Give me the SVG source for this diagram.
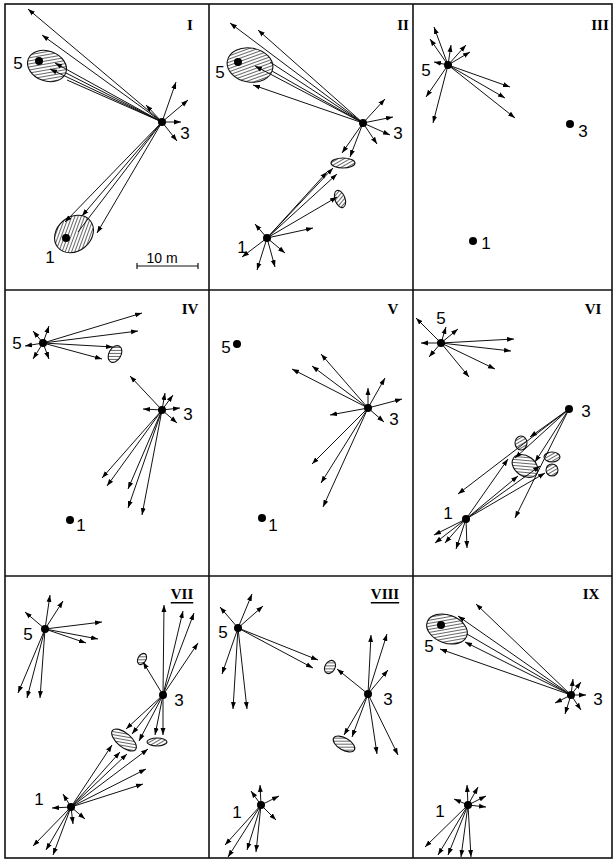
<svg xmlns="http://www.w3.org/2000/svg" width="614" height="861" viewBox="0 0 614 861">
<style>
.fr{fill:none;stroke:#111;stroke-width:1.6}
.c line{stroke:#111;stroke-width:1}
.c line.a{marker-end:url(#ah)}
.dot{fill:#000}
.lb{font-family:"Liberation Sans Narrow","Liberation Sans",Arial,sans-serif;font-size:17px;fill:#000;text-anchor:middle;dominant-baseline:central}
.rn{font-family:"Liberation Serif","Times New Roman",serif;font-size:15px;font-weight:bold;fill:#000;text-anchor:middle;dominant-baseline:central}
.z{fill:url(#hatch);stroke:#111;stroke-width:1.1}
</style>
<defs>
<marker id="ah" viewBox="0 0 10 10" refX="10" refY="5" markerWidth="7" markerHeight="7" markerUnits="userSpaceOnUse" orient="auto"><path d="M0,1.5 L10,5 L0,8.5 z" fill="#000"/></marker>
<pattern id="hatch" width="3" height="3" patternUnits="userSpaceOnUse" patternTransform="rotate(60)"><rect width="3" height="3" fill="#fff"/><line x1="0" y1="0" x2="0" y2="3" stroke="#000" stroke-width="1.2"/></pattern>
</defs>
<rect width="614" height="861" fill="#fff"/>
<g id="frame">
<rect class="fr" x="5" y="4" width="607" height="854"/>
<line class="fr" x1="209" y1="4" x2="209" y2="858"/>
<line class="fr" x1="413" y1="4" x2="413" y2="858"/>
<line class="fr" x1="5" y1="290" x2="612" y2="290"/>
<line class="fr" x1="5" y1="576" x2="612" y2="576"/>
</g>
<g id="titles">
<text class="rn" x="190" y="25">I</text>
<text class="rn" x="403" y="25">II</text>
<text class="rn" x="600" y="25">III</text>
<text class="rn" x="190" y="309">IV</text>
<text class="rn" x="393" y="309">V</text>
<text class="rn" x="593" y="309">VI</text>
<text class="rn" x="182" y="594" text-decoration="underline">VII</text>
<text class="rn" x="385" y="594" text-decoration="underline">VIII</text>
<text class="rn" x="591" y="594">IX</text>
</g>
<g id="scale">
<line x1="137" y1="266" x2="198" y2="266" stroke="#111" stroke-width="1.2"/>
<line x1="137" y1="263" x2="137" y2="269" stroke="#111" stroke-width="1.2"/>
<line x1="198" y1="263" x2="198" y2="269" stroke="#111" stroke-width="1.2"/>
<text class="lb" x="162" y="258" style="font-size:14px">10 m</text>
</g>
<g id="zones">
<ellipse class="z" cx="47" cy="66" rx="20" ry="15" transform="rotate(20 47 66)"/>
<ellipse class="z" cx="74" cy="234" rx="21" ry="17" transform="rotate(-40 74 234)"/>
<ellipse class="z" cx="250" cy="65" rx="23" ry="17" transform="rotate(10 250 65)"/>
<ellipse class="z" cx="343" cy="163" rx="12" ry="5"/>
<ellipse class="z" cx="340" cy="199" rx="5" ry="9" transform="rotate(-20 340 199)"/>
<ellipse class="z" cx="115" cy="354" rx="6" ry="9" transform="rotate(30 115 354)"/>
<ellipse class="z" cx="521" cy="443" rx="6" ry="7"/>
<ellipse class="z" cx="525" cy="466" rx="14" ry="10" transform="rotate(35 525 466)"/>
<ellipse class="z" cx="552" cy="457" rx="8" ry="5"/>
<ellipse class="z" cx="552" cy="470" rx="6" ry="6"/>
<ellipse class="z" cx="142" cy="659" rx="4" ry="6" transform="rotate(30 142 659)"/>
<ellipse class="z" cx="124" cy="740" rx="15" ry="7" transform="rotate(40 124 740)"/>
<ellipse class="z" cx="157" cy="742" rx="10" ry="4"/>
<ellipse class="z" cx="330" cy="667" rx="5" ry="7" transform="rotate(30 330 667)"/>
<ellipse class="z" cx="344" cy="744" rx="12" ry="6" transform="rotate(30 344 744)"/>
<ellipse class="z" cx="447" cy="629" rx="21" ry="14" transform="rotate(20 447 629)"/>
</g>
<g id="connectors" class="c">
<!-- I -->
<line class="a" x1="162" y1="122" x2="28" y2="9"/>
<line class="a" x1="162" y1="122" x2="42" y2="35"/>
<line class="a" x1="162" y1="122" x2="55" y2="63"/>
<line class="a" x1="162" y1="122" x2="50" y2="69"/>
<line x1="162" y1="122" x2="66" y2="73"/>
<line x1="162" y1="122" x2="67" y2="80"/>
<line class="a" x1="162" y1="122" x2="176" y2="82"/>
<line class="a" x1="162" y1="122" x2="188" y2="100"/>
<line class="a" x1="162" y1="122" x2="181" y2="122"/>
<line class="a" x1="162" y1="122" x2="177" y2="141"/>
<line class="a" x1="162" y1="122" x2="146" y2="105"/>
<line class="a" x1="162" y1="122" x2="65" y2="222"/>
<line class="a" x1="162" y1="122" x2="82" y2="216"/>
<line class="a" x1="162" y1="122" x2="97" y2="233"/>
<line x1="162" y1="122" x2="78" y2="232"/>
<!-- II -->
<line class="a" x1="363" y1="123" x2="230" y2="23"/>
<line class="a" x1="363" y1="123" x2="258" y2="30"/>
<line class="a" x1="363" y1="123" x2="253" y2="85"/>
<line class="a" x1="363" y1="123" x2="255" y2="66"/>
<line x1="363" y1="123" x2="270" y2="62"/>
<line x1="363" y1="123" x2="272" y2="71"/>
<line class="a" x1="363" y1="123" x2="385" y2="99"/>
<line class="a" x1="363" y1="123" x2="393" y2="117"/>
<line class="a" x1="363" y1="123" x2="390" y2="135"/>
<line class="a" x1="363" y1="123" x2="377" y2="144"/>
<line class="a" x1="363" y1="123" x2="342" y2="153"/>
<line class="a" x1="363" y1="123" x2="350" y2="157"/>
<line class="a" x1="267" y1="238" x2="327" y2="172"/>
<line class="a" x1="267" y1="238" x2="333" y2="168"/>
<line class="a" x1="267" y1="238" x2="337" y2="174"/>
<line class="a" x1="267" y1="238" x2="337" y2="197"/>
<line class="a" x1="267" y1="238" x2="313" y2="228"/>
<line class="a" x1="267" y1="238" x2="255" y2="224"/>
<line class="a" x1="267" y1="238" x2="242" y2="257"/>
<line class="a" x1="267" y1="238" x2="257" y2="270"/>
<line class="a" x1="267" y1="238" x2="275" y2="267"/>
<line class="a" x1="267" y1="238" x2="285" y2="253"/>
<!-- III -->
<line class="a" x1="448" y1="65" x2="434" y2="27"/>
<line class="a" x1="448" y1="65" x2="430" y2="39"/>
<line class="a" x1="448" y1="65" x2="451" y2="45"/>
<line class="a" x1="448" y1="65" x2="466" y2="45"/>
<line class="a" x1="448" y1="65" x2="470" y2="52"/>
<line class="a" x1="448" y1="65" x2="434" y2="62"/>
<line class="a" x1="448" y1="65" x2="510" y2="87"/>
<line class="a" x1="448" y1="65" x2="505" y2="98"/>
<line class="a" x1="448" y1="65" x2="515" y2="118"/>
<line class="a" x1="448" y1="65" x2="426" y2="97"/>
<line class="a" x1="448" y1="65" x2="433" y2="123"/>
<!-- IV -->
<line class="a" x1="43" y1="343" x2="142" y2="313"/>
<line class="a" x1="43" y1="343" x2="138" y2="331"/>
<line class="a" x1="43" y1="343" x2="113" y2="347"/>
<line class="a" x1="43" y1="343" x2="102" y2="359"/>
<line class="a" x1="43" y1="343" x2="49" y2="326"/>
<line class="a" x1="43" y1="343" x2="25" y2="346"/>
<line class="a" x1="43" y1="343" x2="33" y2="331"/>
<line class="a" x1="43" y1="343" x2="33" y2="359"/>
<line class="a" x1="43" y1="343" x2="49" y2="359"/>
<line class="a" x1="162" y1="410" x2="130" y2="376"/>
<line class="a" x1="162" y1="410" x2="165" y2="393"/>
<line class="a" x1="162" y1="410" x2="173" y2="395"/>
<line class="a" x1="162" y1="410" x2="143" y2="409"/>
<line class="a" x1="162" y1="410" x2="180" y2="408"/>
<line class="a" x1="162" y1="410" x2="177" y2="423"/>
<line class="a" x1="162" y1="410" x2="102" y2="478"/>
<line class="a" x1="162" y1="410" x2="107" y2="486"/>
<line class="a" x1="162" y1="410" x2="128" y2="489"/>
<line class="a" x1="162" y1="410" x2="128" y2="508"/>
<line class="a" x1="162" y1="410" x2="142" y2="515"/>
<!-- V -->
<line class="a" x1="368" y1="408" x2="292" y2="369"/>
<line class="a" x1="368" y1="408" x2="312" y2="366"/>
<line class="a" x1="368" y1="408" x2="321" y2="354"/>
<line class="a" x1="368" y1="408" x2="368" y2="388"/>
<line class="a" x1="368" y1="408" x2="385" y2="378"/>
<line class="a" x1="368" y1="408" x2="402" y2="399"/>
<line class="a" x1="368" y1="408" x2="330" y2="415"/>
<line class="a" x1="368" y1="408" x2="384" y2="422"/>
<line class="a" x1="368" y1="408" x2="312" y2="464"/>
<line class="a" x1="368" y1="408" x2="321" y2="483"/>
<line class="a" x1="368" y1="408" x2="323" y2="507"/>
<!-- VI -->
<line class="a" x1="441" y1="343" x2="416" y2="318"/>
<line class="a" x1="441" y1="343" x2="446" y2="327"/>
<line class="a" x1="441" y1="343" x2="458" y2="329"/>
<line class="a" x1="441" y1="343" x2="421" y2="343"/>
<line class="a" x1="441" y1="343" x2="514" y2="339"/>
<line class="a" x1="441" y1="343" x2="511" y2="351"/>
<line class="a" x1="441" y1="343" x2="495" y2="369"/>
<line class="a" x1="441" y1="343" x2="469" y2="377"/>
<line class="a" x1="441" y1="343" x2="429" y2="357"/>
<line class="a" x1="569" y1="409" x2="530" y2="437"/>
<line class="a" x1="569" y1="409" x2="458" y2="494"/>
<line class="a" x1="569" y1="409" x2="515" y2="458"/>
<line class="a" x1="569" y1="409" x2="535" y2="462"/>
<line class="a" x1="569" y1="409" x2="515" y2="518"/>
<line class="a" x1="466" y1="519" x2="508" y2="459"/>
<line class="a" x1="466" y1="519" x2="518" y2="476"/>
<line class="a" x1="466" y1="519" x2="545" y2="473"/>
<line class="a" x1="466" y1="519" x2="540" y2="466"/>
<line class="a" x1="466" y1="519" x2="434" y2="535"/>
<line class="a" x1="466" y1="519" x2="435" y2="543"/>
<line class="a" x1="466" y1="519" x2="445" y2="543"/>
<line class="a" x1="466" y1="519" x2="456" y2="549"/>
<line class="a" x1="466" y1="519" x2="467" y2="548"/>
<!-- VII -->
<line class="a" x1="45" y1="629" x2="50" y2="595"/>
<line class="a" x1="45" y1="629" x2="63" y2="601"/>
<line class="a" x1="45" y1="629" x2="25" y2="612"/>
<line class="a" x1="45" y1="629" x2="102" y2="622"/>
<line class="a" x1="45" y1="629" x2="98" y2="639"/>
<line class="a" x1="45" y1="629" x2="86" y2="643"/>
<line class="a" x1="45" y1="629" x2="18" y2="693"/>
<line class="a" x1="45" y1="629" x2="27" y2="698"/>
<line class="a" x1="45" y1="629" x2="40" y2="698"/>
<line class="a" x1="163" y1="695" x2="164" y2="605"/>
<line class="a" x1="163" y1="695" x2="183" y2="611"/>
<line class="a" x1="163" y1="695" x2="194" y2="613"/>
<line class="a" x1="163" y1="695" x2="198" y2="643"/>
<line class="a" x1="163" y1="695" x2="143" y2="662"/>
<line class="a" x1="163" y1="695" x2="126" y2="729"/>
<line class="a" x1="163" y1="695" x2="132" y2="734"/>
<line class="a" x1="163" y1="695" x2="139" y2="741"/>
<line class="a" x1="163" y1="695" x2="155" y2="735"/>
<line class="a" x1="163" y1="695" x2="163" y2="735"/>
<line class="a" x1="71" y1="807" x2="112" y2="745"/>
<line class="a" x1="71" y1="807" x2="120" y2="752"/>
<line class="a" x1="71" y1="807" x2="127" y2="754"/>
<line class="a" x1="71" y1="807" x2="148" y2="749"/>
<line class="a" x1="71" y1="807" x2="146" y2="769"/>
<line class="a" x1="71" y1="807" x2="143" y2="784"/>
<line class="a" x1="71" y1="807" x2="52" y2="808"/>
<line class="a" x1="71" y1="807" x2="63" y2="794"/>
<line class="a" x1="71" y1="807" x2="73" y2="824"/>
<line class="a" x1="71" y1="807" x2="85" y2="819"/>
<line class="a" x1="71" y1="807" x2="33" y2="846"/>
<line class="a" x1="71" y1="807" x2="46" y2="850"/>
<line class="a" x1="71" y1="807" x2="53" y2="855"/>
<!-- VIII -->
<line class="a" x1="238" y1="628" x2="252" y2="594"/>
<line class="a" x1="238" y1="628" x2="263" y2="606"/>
<line class="a" x1="238" y1="628" x2="220" y2="607"/>
<line class="a" x1="238" y1="628" x2="318" y2="660"/>
<line class="a" x1="238" y1="628" x2="313" y2="668"/>
<line class="a" x1="238" y1="628" x2="222" y2="674"/>
<line class="a" x1="238" y1="628" x2="233" y2="709"/>
<line class="a" x1="238" y1="628" x2="247" y2="709"/>
<line class="a" x1="368" y1="694" x2="371" y2="635"/>
<line class="a" x1="368" y1="694" x2="387" y2="634"/>
<line class="a" x1="368" y1="694" x2="388" y2="670"/>
<line class="a" x1="368" y1="694" x2="337" y2="669"/>
<line class="a" x1="368" y1="694" x2="344" y2="735"/>
<line class="a" x1="368" y1="694" x2="352" y2="737"/>
<line class="a" x1="368" y1="694" x2="377" y2="754"/>
<line class="a" x1="368" y1="694" x2="398" y2="755"/>
<line class="a" x1="261" y1="805" x2="260" y2="785"/>
<line class="a" x1="261" y1="805" x2="251" y2="791"/>
<line class="a" x1="261" y1="805" x2="279" y2="796"/>
<line class="a" x1="261" y1="805" x2="276" y2="820"/>
<line class="a" x1="261" y1="805" x2="225" y2="845"/>
<line class="a" x1="261" y1="805" x2="228" y2="857"/>
<line class="a" x1="261" y1="805" x2="247" y2="850"/>
<line class="a" x1="261" y1="805" x2="256" y2="852"/>
<!-- IX -->
<line class="a" x1="571" y1="695" x2="476" y2="604"/>
<line class="a" x1="571" y1="695" x2="458" y2="616"/>
<line class="a" x1="571" y1="695" x2="465" y2="642"/>
<line class="a" x1="571" y1="695" x2="440" y2="649"/>
<line x1="571" y1="695" x2="467" y2="634"/>
<line class="a" x1="571" y1="695" x2="573" y2="679"/>
<line class="a" x1="571" y1="695" x2="581" y2="682"/>
<line class="a" x1="571" y1="695" x2="586" y2="695"/>
<line class="a" x1="571" y1="695" x2="581" y2="710"/>
<line class="a" x1="571" y1="695" x2="565" y2="714"/>
<line class="a" x1="571" y1="695" x2="555" y2="703"/>
<line class="a" x1="468" y1="805" x2="467" y2="785"/>
<line class="a" x1="468" y1="805" x2="478" y2="787"/>
<line class="a" x1="468" y1="805" x2="486" y2="796"/>
<line class="a" x1="468" y1="805" x2="486" y2="807"/>
<line class="a" x1="468" y1="805" x2="454" y2="799"/>
<line class="a" x1="468" y1="805" x2="425" y2="847"/>
<line class="a" x1="468" y1="805" x2="438" y2="855"/>
<line class="a" x1="468" y1="805" x2="448" y2="855"/>
<line class="a" x1="468" y1="805" x2="461" y2="857"/>
<line class="a" x1="468" y1="805" x2="471" y2="857"/>
</g>
<g id="p1-n5"><circle class="dot" cx="39" cy="61" r="4"/><text class="lb" x="18" y="63">5</text></g>
<g id="p1-n3"><circle class="dot" cx="162" cy="122" r="4"/><text class="lb" x="185" y="133">3</text></g>
<g id="p1-n1"><circle class="dot" cx="66" cy="238" r="4"/><text class="lb" x="50" y="257">1</text></g>
<g id="p2-n5"><circle class="dot" cx="238" cy="62" r="4"/><text class="lb" x="220" y="72">5</text></g>
<g id="p2-n3"><circle class="dot" cx="363" cy="123" r="4"/><text class="lb" x="398" y="133">3</text></g>
<g id="p2-n1"><circle class="dot" cx="267" cy="238" r="4"/><text class="lb" x="242" y="247">1</text></g>
<g id="p3-n5"><circle class="dot" cx="448" cy="65" r="4"/><text class="lb" x="426" y="70">5</text></g>
<g id="p3-n3"><circle class="dot" cx="570" cy="124" r="4"/><text class="lb" x="583" y="131">3</text></g>
<g id="p3-n1"><circle class="dot" cx="473" cy="241" r="4"/><text class="lb" x="486" y="243">1</text></g>
<g id="p4-n5"><circle class="dot" cx="43" cy="343" r="4"/><text class="lb" x="17" y="343">5</text></g>
<g id="p4-n3"><circle class="dot" cx="162" cy="410" r="4"/><text class="lb" x="188" y="414">3</text></g>
<g id="p4-n1"><circle class="dot" cx="70" cy="520" r="4"/><text class="lb" x="81" y="525">1</text></g>
<g id="p5-n5"><circle class="dot" cx="237" cy="344" r="4"/><text class="lb" x="226" y="347">5</text></g>
<g id="p5-n3"><circle class="dot" cx="368" cy="408" r="4"/><text class="lb" x="394" y="419">3</text></g>
<g id="p5-n1"><circle class="dot" cx="262" cy="518" r="4"/><text class="lb" x="273" y="525">1</text></g>
<g id="p6-n5"><circle class="dot" cx="441" cy="343" r="4"/><text class="lb" x="441" y="318">5</text></g>
<g id="p6-n3"><circle class="dot" cx="569" cy="409" r="4"/><text class="lb" x="586" y="411">3</text></g>
<g id="p6-n1"><circle class="dot" cx="466" cy="519" r="4"/><text class="lb" x="448" y="513">1</text></g>
<g id="p7-n5"><circle class="dot" cx="45" cy="629" r="4"/><text class="lb" x="28" y="634">5</text></g>
<g id="p7-n3"><circle class="dot" cx="163" cy="695" r="4"/><text class="lb" x="179" y="700">3</text></g>
<g id="p7-n1"><circle class="dot" cx="71" cy="807" r="4"/><text class="lb" x="39" y="799">1</text></g>
<g id="p8-n5"><circle class="dot" cx="238" cy="628" r="4"/><text class="lb" x="223" y="632">5</text></g>
<g id="p8-n3"><circle class="dot" cx="368" cy="694" r="4"/><text class="lb" x="388" y="699">3</text></g>
<g id="p8-n1"><circle class="dot" cx="261" cy="805" r="4"/><text class="lb" x="237" y="812">1</text></g>
<g id="p9-n5"><circle class="dot" cx="441" cy="625" r="4"/><text class="lb" x="429" y="646">5</text></g>
<g id="p9-n3"><circle class="dot" cx="571" cy="695" r="4"/><text class="lb" x="598" y="699">3</text></g>
<g id="p9-n1"><circle class="dot" cx="468" cy="805" r="4"/><text class="lb" x="440" y="811">1</text></g>
</svg>
